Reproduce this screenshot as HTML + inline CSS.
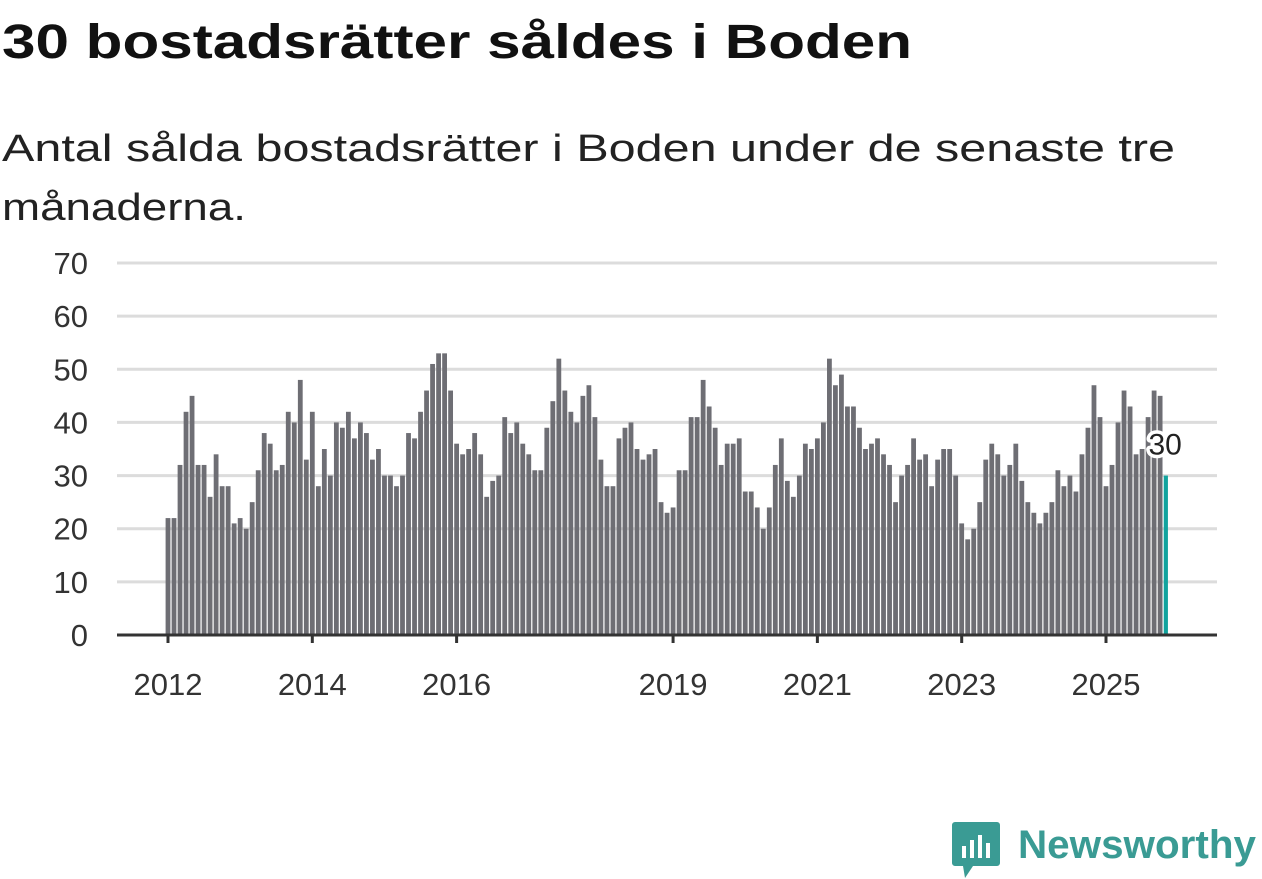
<!DOCTYPE html>
<html><head><meta charset="utf-8"><style>
html,body{margin:0;padding:0;background:#fff;}
svg{display:block;font-family:"Liberation Sans","DejaVu Sans",sans-serif;}
</style></head><body>
<svg id="chart" width="1262" height="879" viewBox="0 0 1262 879" xmlns="http://www.w3.org/2000/svg">
<text x="2" y="58" font-size="48" font-weight="bold" fill="#111" textLength="910" lengthAdjust="spacingAndGlyphs">30 bostadsrätter såldes i Boden</text>
<text x="2" y="161" font-size="38" fill="#222" textLength="1173" lengthAdjust="spacingAndGlyphs">Antal sålda bostadsrätter i Boden under de senaste tre</text>
<text x="2" y="220" font-size="38" fill="#222" textLength="244" lengthAdjust="spacingAndGlyphs">månaderna.</text>
<g id="grid"></g>
<g id="yaxis"></g>
<g id="bars"></g>
<g id="xaxis"></g>
<g id="label"></g>
<g>
<path d="M955 822 h42 a3 3 0 0 1 3 3 v38 a3 3 0 0 1 -3 3 h-24 l-8 12 l-2 -12 h-8 a3 3 0 0 1 -3 -3 v-38 a3 3 0 0 1 3 -3 z" fill="#3a9b94"/>
<rect x="962" y="846" width="4" height="12" fill="#fff"/><rect x="970" y="840" width="4" height="18" fill="#fff"/><rect x="978" y="835" width="4" height="23" fill="#fff"/><rect x="986" y="843" width="4" height="15" fill="#fff"/>
<text x="1018" y="858" font-size="40" font-weight="bold" fill="#3a9b94" textLength="238" lengthAdjust="spacingAndGlyphs">Newsworthy</text>
</g>
</svg>
<script>
const values = [
22,22,32,42,45,32,32,26,34,28,28,21,
22,20,25,31,38,36,31,32,42,40,48,33,
42,28,35,30,40,39,42,37,40,38,33,35,
30,30,28,30,38,37,42,46,51,53,53,46,
36,34,35,38,34,26,29,30,41,38,40,36,
34,31,31,39,44,52,46,42,40,45,47,41,
33,28,28,37,39,40,35,33,34,35,25,23,
24,31,31,41,41,48,43,39,32,36,36,37,
27,27,24,20,24,32,37,29,26,30,36,35,
37,40,52,47,49,43,43,39,35,36,37,34,
32,25,30,32,37,33,34,28,33,35,35,30,
21,18,20,25,33,36,34,30,32,36,29,25,
23,21,23,25,31,28,30,27,34,39,47,41,
28,32,40,46,43,34,35,41,46,45,30];
const startYear = 2012;
const yTicks = [0,10,20,30,40,50,60,70];
const xTickYears = [2012,2014,2016,2019,2021,2023,2025];
const NS="http://www.w3.org/2000/svg";
const y0=635, pxPerUnit=(635-263)/70;
const x0=168, pxPerMonth=(1106-168)/156;
function ys(v){return y0-v*pxPerUnit;}
function xs(i){return x0+i*pxPerMonth;}
function mk(tag,attrs,parent){const e=document.createElementNS(NS,tag);for(const k in attrs)e.setAttribute(k,attrs[k]);parent.appendChild(e);return e;}
const grid=document.getElementById('grid'),yax=document.getElementById('yaxis'),bars=document.getElementById('bars'),xax=document.getElementById('xaxis'),lab=document.getElementById('label');
yTicks.forEach(t=>{
  if(t>0){const l=mk('line',{x1:117,x2:1217,y1:ys(t),y2:ys(t),stroke:'#dcdcdc','stroke-width':3},grid);
  
  }
  const tx=mk('text',{x:88,y:ys(t)+11,'font-size':31,fill:'#333','text-anchor':'end'},yax);
  
  
  tx.textContent=t;
});
values.forEach((v,i)=>{
  const last=i===values.length-1;
  const r=mk('rect',{x:xs(i)-2.4,y:ys(v),width:last?4.2:4.8,height:y0-ys(v),fill:last?'#12a39e':'#6e6e74'},bars);
  
  
});
const ax=mk('line',{x1:117,x2:1217,y1:y0,y2:y0,stroke:'#333','stroke-width':3},xax);


xTickYears.forEach(yr=>{
  const x=xs((yr-startYear)*12);
  const tk=mk('line',{x1:x,x2:x,y1:y0,y2:y0+8,stroke:'#333','stroke-width':3},xax);
  
  
  const tx=mk('text',{x:x,y:695,'font-size':31,fill:'#333','text-anchor':'middle'},xax);
  
  
  tx.textContent=yr;
});
const li=values.length-1, lv=values[li];
const lt=mk('text',{x:xs(li)-1,y:ys(lv)-21,'font-size':30,fill:'#222','text-anchor':'middle',stroke:'#fff','stroke-width':7,'paint-order':'stroke','stroke-linejoin':'round'},lab);


lt.textContent=lv;
</script>
</body></html>
